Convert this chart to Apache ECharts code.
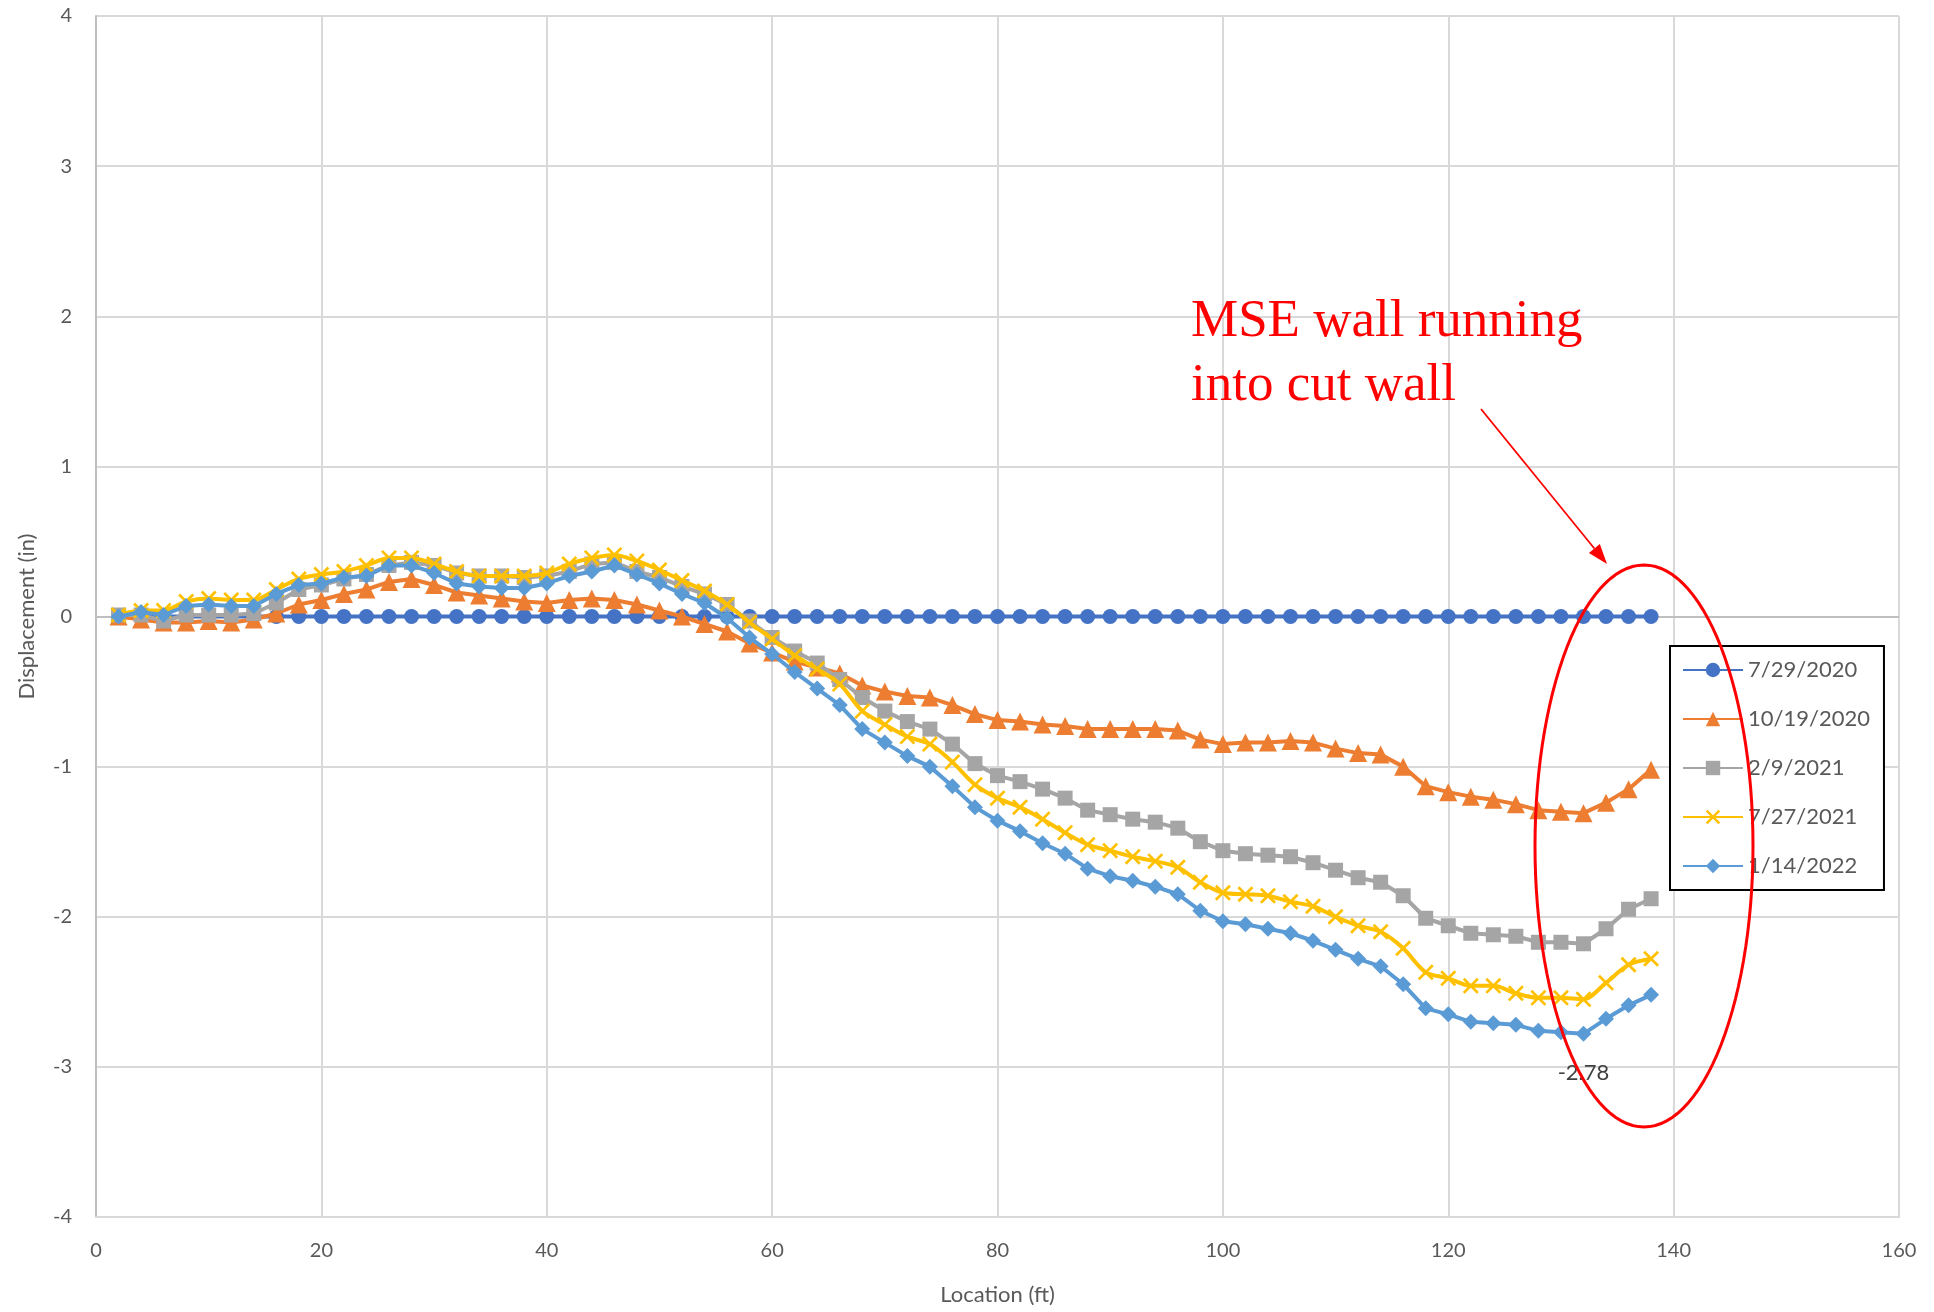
<!DOCTYPE html>
<html>
<head>
<meta charset="utf-8">
<script src="https://cdn.jsdelivr.net/npm/echarts@6/dist/echarts.min.js"></script>
<style>
  html, body { margin: 0; padding: 0; background: #ffffff; }
  #chart { width: 1934px; height: 1312px; }
</style>
</head>
<body>
<div id="chart"></div>
<script>
// ---- Data ----
const locations = [
  2,4,6,8,10,12,14,16,18,20,
  22,24,26,28,30,32,34,36,38,40,
  42,44,46,48,50,52,54,56,58,60,
  62,64,66,68,70,72,74,76,78,80,
  82,84,86,88,90,92,94,96,98,100,
  102,104,106,108,110,112,114,116,118,120,
  122,124,126,128,130,132,134,136,138
];

const seriesNames = ['7/29/2020', '10/19/2020', '2/9/2021', '7/27/2021', '1/14/2022'];

const d20200729 = [
  0,0,0,0,0,0,0,0,0,0,
  0,0,0,0,0,0,0,0,0,0,
  0,0,0,0,0,0,0,0,0,0,
  0,0,0,0,0,0,0,0,0,0,
  0,0,0,0,0,0,0,0,0,0,
  0,0,0,0,0,0,0,0,0,0,
  0,0,0,0,0,0,0,0,0
];

const d20201019 = [
  0,-0.02,-0.04,-0.04,-0.03,-0.04,-0.02,0.02,0.08,0.11,
  0.15,0.18,0.23,0.25,0.21,0.16,0.14,0.12,0.10,0.09,
  0.11,0.12,0.11,0.08,0.04,0.00,-0.05,-0.10,-0.18,-0.24,
  -0.30,-0.34,-0.38,-0.46,-0.50,-0.53,-0.54,-0.59,-0.65,-0.69,
  -0.70,-0.72,-0.73,-0.75,-0.75,-0.75,-0.75,-0.76,-0.82,-0.85,
  -0.84,-0.84,-0.83,-0.84,-0.88,-0.91,-0.92,-1.00,-1.13,-1.17,
  -1.20,-1.22,-1.25,-1.29,-1.30,-1.31,-1.24,-1.15,-1.02
];

const d20210209 = [
  0.01,0.01,-0.03,0.01,0.01,0.01,0.02,0.09,0.18,0.21,
  0.25,0.28,0.34,0.36,0.34,0.29,0.27,0.27,0.26,0.27,
  0.30,0.35,0.36,0.30,0.26,0.20,0.15,0.08,-0.03,-0.14,
  -0.23,-0.31,-0.42,-0.54,-0.63,-0.70,-0.75,-0.85,-0.98,-1.06,
  -1.10,-1.15,-1.21,-1.29,-1.32,-1.35,-1.37,-1.41,-1.50,-1.56,
  -1.58,-1.59,-1.60,-1.64,-1.69,-1.74,-1.77,-1.86,-2.01,-2.06,
  -2.11,-2.12,-2.13,-2.17,-2.17,-2.18,-2.08,-1.95,-1.88
];

const d20210727 = [
  0.01,0.04,0.04,0.10,0.12,0.11,0.11,0.18,0.25,0.28,
  0.30,0.34,0.39,0.39,0.35,0.30,0.27,0.27,0.27,0.29,
  0.35,0.39,0.41,0.37,0.31,0.24,0.17,0.08,-0.04,-0.15,
  -0.26,-0.35,-0.45,-0.63,-0.72,-0.80,-0.85,-0.97,-1.12,-1.21,
  -1.27,-1.35,-1.44,-1.52,-1.56,-1.60,-1.63,-1.67,-1.77,-1.84,
  -1.85,-1.86,-1.90,-1.93,-2.00,-2.06,-2.10,-2.21,-2.37,-2.41,
  -2.46,-2.46,-2.51,-2.54,-2.54,-2.55,-2.44,-2.32,-2.28
];

const d20220114 = [
  0.00,0.03,0.01,0.07,0.08,0.07,0.07,0.15,0.21,0.22,
  0.26,0.27,0.34,0.34,0.29,0.22,0.20,0.19,0.19,0.22,
  0.27,0.30,0.34,0.28,0.22,0.15,0.09,-0.01,-0.14,-0.25,
  -0.37,-0.48,-0.59,-0.75,-0.84,-0.93,-1.00,-1.13,-1.27,-1.36,
  -1.43,-1.51,-1.58,-1.68,-1.73,-1.76,-1.80,-1.85,-1.96,-2.03,
  -2.05,-2.08,-2.11,-2.16,-2.22,-2.28,-2.33,-2.45,-2.61,-2.65,
  -2.70,-2.71,-2.72,-2.76,-2.77,-2.78,-2.68,-2.59,-2.52
];

const labeledLocation = 132; // data label shown on 1/14/2022 at this location

const annotationLines = ['MSE wall running', 'into cut wall'];

// ---- Styling ----
const FONT = 'Lato, "Liberation Sans", sans-serif';
const colors = ['#4472C4', '#ED7D31', '#A5A5A5', '#FFC000', '#5B9BD5'];
const xSymbol = 'path://M0,1.2L1.2,0L5,3.8L8.8,0L10,1.2L6.2,5L10,8.8L8.8,10L5,6.2L1.2,10L0,8.8L3.8,5Z';
const symbols = ['circle', 'triangle', 'rect', xSymbol, 'diamond'];
const symbolSizes = [15, 18, 15, 16, 16];

function pairs(vals, labelIdx) {
  return locations.map((x, i) => {
    if (i === labelIdx) {
      return {
        value: [x, vals[i]],
        label: {
          show: true, position: 'bottom', distance: 20,
          formatter: p => p.value[1].toFixed(2),
          color: '#404040', fontSize: 22, fontFamily: FONT
        }
      };
    }
    return [x, vals[i]];
  });
}

const allData = [d20200729, d20201019, d20210209, d20210727, d20220114];
const labelIdx = locations.indexOf(labeledLocation);

const series = allData.map((vals, k) => {
  const s = {
    name: seriesNames[k],
    type: 'line',
    data: pairs(vals, k === 4 ? labelIdx : -1),
    symbol: symbols[k],
    symbolSize: symbolSizes[k],
    showAllSymbol: true,
    smooth: k === 3 ? 0.3 : false,
    lineStyle: { color: colors[k], width: 4 },
    itemStyle: { color: colors[k] },
    emphasis: { disabled: true },
    animation: false,
    z: 2 + k
  };
  if (k === 0) {
    s.markLine = {
      silent: true,
      symbol: 'none',
      label: { show: false },
      lineStyle: { color: '#bfbfbf', width: 2, type: 'solid' },
      data: [{ yAxis: 0 }],
      z: 1
    };
  }
  return s;
});

// ellipse outline (annotation shape)
const ell = { cx: 1644, cy: 846, rx: 109, ry: 281 };
const ellPts = [];
for (let i = 0; i < 120; i++) {
  const t = (i / 120) * Math.PI * 2;
  ellPts.push([ell.cx + ell.rx * Math.cos(t), ell.cy + ell.ry * Math.sin(t)]);
}

const arrowFrom = [1481, 409], arrowTo = [1607, 564];
const ax = arrowTo[0] - arrowFrom[0], ay = arrowTo[1] - arrowFrom[1];
const al = Math.sqrt(ax * ax + ay * ay);
const ux = ax / al, uy = ay / al;
const headL = 20, headW = 7;
const bx = arrowTo[0] - ux * headL, by = arrowTo[1] - uy * headL;
const headPts = [arrowTo, [bx - uy * headW, by + ux * headW], [bx + uy * headW, by - ux * headW]];

const chart = echarts.init(document.getElementById('chart'), null, { renderer: 'canvas' });
chart.setOption({
  backgroundColor: '#ffffff',
  animation: false,
  grid: { left: 96, right: 35, top: 16, bottom: 95, containLabel: false },
  xAxis: {
    type: 'value', min: 0, max: 160, interval: 20,
    name: 'Location (ft)', nameLocation: 'middle', nameGap: 67,
    nameTextStyle: { color: '#595959', fontSize: 22, fontFamily: FONT },
    axisLine: { show: true, onZero: false, lineStyle: { color: '#d9d9d9', width: 2 } },
    axisTick: { show: false },
    axisLabel: { color: '#595959', fontSize: 20, fontFamily: FONT, margin: 24 },
    splitLine: { show: true, lineStyle: { color: '#d9d9d9', width: 2 } }
  },
  yAxis: {
    type: 'value', min: -4, max: 4, interval: 1,
    name: 'Displacement (in)', nameLocation: 'middle', nameGap: 58,
    nameTextStyle: { color: '#595959', fontSize: 22, fontFamily: FONT },
    axisLine: { show: true, lineStyle: { color: '#bfbfbf', width: 2 } },
    axisTick: { show: false },
    axisLabel: { color: '#595959', fontSize: 20, fontFamily: FONT, margin: 24 },
    splitLine: { show: true, lineStyle: { color: '#d9d9d9', width: 2 } }
  },
  legend: {
    orient: 'vertical',
    left: 1670, top: 646,
    backgroundColor: '#ffffff',
    borderColor: '#000000', borderWidth: 2, borderRadius: 0,
    padding: [12, 14, 12, 12],
    itemWidth: 60, itemHeight: 18, itemGap: 25,
    textStyle: { color: '#595959', fontSize: 22, fontFamily: FONT, lineHeight: 24 },
    data: seriesNames,
    z: 10
  },
  series: series,
  graphic: [
    {
      type: 'text', left: 1191, top: 290, z: 100,
      style: {
        text: annotationLines.join('\n'),
        fill: '#FF0000',
        font: '53px "Liberation Serif", "Times New Roman", serif',
        lineHeight: 64
      }
    },
    {
      type: 'line', z: 100,
      shape: { x1: arrowFrom[0], y1: arrowFrom[1], x2: bx, y2: by },
      style: { stroke: '#FF0000', lineWidth: 1.8 }
    },
    {
      type: 'polygon', z: 100,
      shape: { points: headPts },
      style: { fill: '#FF0000' }
    },
    {
      type: 'polygon', z: 100,
      shape: { points: ellPts },
      style: { fill: 'none', stroke: '#FF0000', lineWidth: 3 }
    }
  ]
});
</script>
</body>
</html>
